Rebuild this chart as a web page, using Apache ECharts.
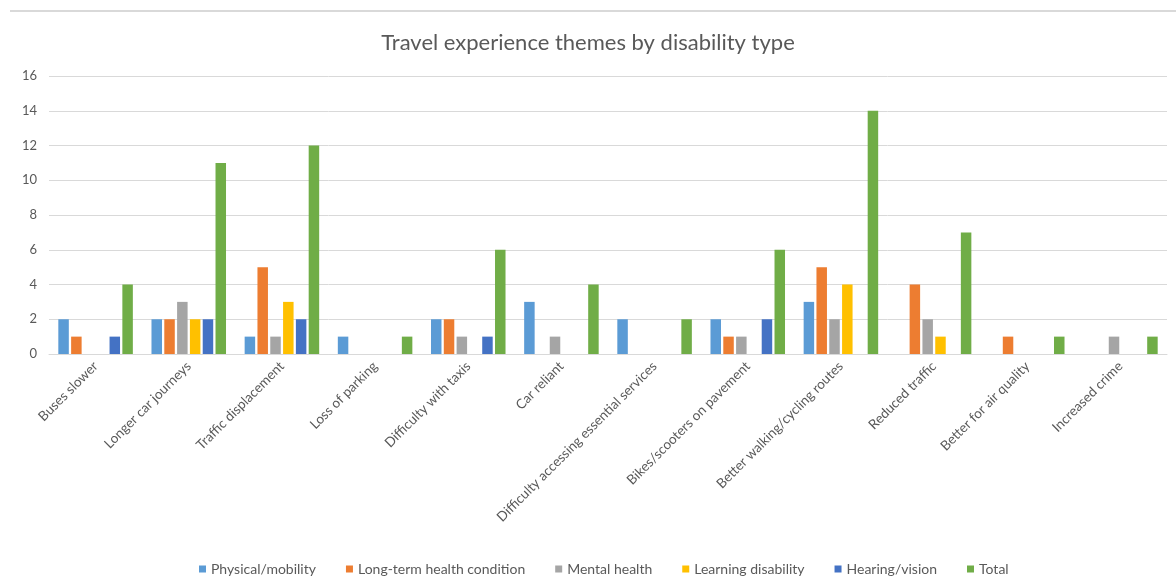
<!DOCTYPE html>
<html><head><meta charset="utf-8">
<script src="https://cdn.jsdelivr.net/npm/echarts@6/dist/echarts.min.js"></script>
<style>html,body{margin:0;padding:0;background:#fff}#c{width:1176px;height:586px}</style>
</head><body><div id="c"></div>
<script>
const categories = ["Buses slower","Longer car journeys","Traffic displacement","Loss of parking","Difficulty with taxis","Car reliant","Difficulty accessing essential services","Bikes/scooters on pavement","Better walking/cycling routes","Reduced traffic","Better for air quality","Increased crime"];
const physical = [2,2,1,1,2,3,2,2,3,0,0,0];
const longTerm = [1,2,5,0,2,0,0,1,5,4,1,0];
const mental   = [0,3,1,0,1,1,0,1,2,2,0,1];
const learning = [0,2,3,0,0,0,0,0,4,1,0,0];
const hearing  = [1,2,2,0,1,0,0,2,0,0,0,0];
const total    = [4,11,12,1,6,4,2,6,14,7,1,1];
const seriesNames = ["Physical/mobility","Long-term health condition","Mental health","Learning disability","Hearing/vision","Total"];
const colors = ["#5B9BD5","#ED7D31","#A5A5A5","#FFC000","#4472C4","#70AD47"];
const allData = [physical,longTerm,mental,learning,hearing,total];
const FONT = "Lato, 'Liberation Sans', sans-serif";
const chart = echarts.init(document.getElementById('c'));
chart.setOption({
  animation:false,
  textStyle:{fontFamily:FONT},
  title:{text:"Travel experience themes by disability type",left:'center',top:27,
    textStyle:{fontFamily:FONT,fontSize:22,fontWeight:'normal',color:'#595959'}},
  legend:{bottom:5,left:194,itemWidth:7,itemHeight:7,itemGap:30,icon:'rect',
    textStyle:{fontFamily:FONT,fontSize:14,color:'#595959'}},
  grid:{left:49,right:9,top:76,bottom:232,containLabel:false},
  xAxis:{type:'category',data:categories,
    axisLine:{lineStyle:{color:'#d9d9d9'}},axisTick:{show:false},
    axisLabel:{rotate:45,interval:0,fontSize:13.5,color:'#595959',margin:10,fontFamily:FONT}},
  yAxis:{type:'value',min:0,max:16,interval:2,
    axisLine:{show:false},axisTick:{show:false},
    splitLine:{lineStyle:{color:'#d9d9d9'}},
    axisLabel:{fontSize:13,color:'#595959',margin:12,fontFamily:FONT}},
  graphic:[{type:'line',shape:{x1:10,y1:11,x2:1176,y2:11},style:{stroke:'#d9d9d9',lineWidth:2}}],
  series: seriesNames.map((n,i)=>({name:n,type:'bar',data:allData[i],
    itemStyle:{color:colors[i]},barGap:'22%',barCategoryGap:'20%'}))
});
</script></body></html>
